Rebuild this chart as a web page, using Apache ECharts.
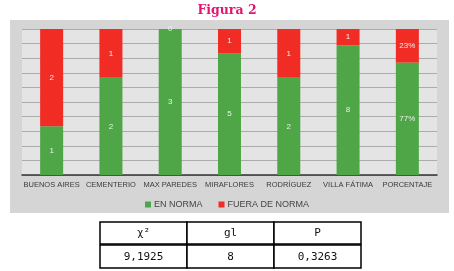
<!DOCTYPE html>
<html><head><meta charset="utf-8">
<script src="https://cdn.jsdelivr.net/npm/echarts@6/dist/echarts.min.js"></script>
<style>html,body{margin:0;padding:0;background:#fff}#c{width:454px;height:271px}</style>
</head><body><div id="c"></div>
<script>
const categories = ['BUENOS AIRES','CEMENTERIO','MAX PAREDES','MIRAFLORES','RODRÍGUEZ','VILLA FÁTIMA','PORCENTAJE'];
const enNorma = [1, 2, 3, 5, 2, 8, 77];
const fueraNorma = [2, 1, 0, 1, 1, 1, 23];
const labelsEn = ['1','2','3','5','2','8','77%'];
const labelsFuera = ['2','1','0','1','1','1','23%'];
const seriesNames = ['EN NORMA','FUERA DE NORMA'];
const tableHeaders = ['χ²','gl','P'];
const tableValues = ['9,1925','8','0,3263'];

const totals = enNorma.map((v,i)=>v+fueraNorma[i]);
const pctEn = enNorma.map((v,i)=>v/totals[i]*100);
const pctFuera = fueraNorma.map((v,i)=>v/totals[i]*100);

const chart = echarts.init(document.getElementById('c'), null, {renderer:'canvas'});
const tblX = 100, tblY = 222, colW = 87, rowH = 24;
const graphics = [
  {type:'rect', z:-10, shape:{x:10,y:20,width:439,height:193}, style:{fill:'#d5d5d5'}},
  {type:'rect', z:-9, shape:{x:22,y:29,width:415,height:146}, style:{fill:'#e4e4e4'}}
];
for (let r=0;r<2;r++){
  for (let c=0;c<3;c++){
    graphics.push({type:'rect', shape:{x:tblX+c*colW, y:tblY+r*rowH-(r?1:0), width:colW, height:rowH-(r?1:2)},
      style:{fill:'#fff', stroke:'#000', lineWidth:1.5}});
    graphics.push({type:'text', z:5, style:{text:(r?tableValues:tableHeaders)[c], x:tblX+c*colW+colW/2, y:tblY+r*rowH+rowH/2-1,
      textAlign:'center', textVerticalAlign:'middle', font:'11px "DejaVu Sans Mono"', fill:'#111'}});
  }
}
chart.setOption({
  animation:false,
  title:{text:'Figura 2', left:'center', top:-1, textStyle:{color:'#e5156e', fontFamily:'DejaVu Serif', fontWeight:'bold', fontSize:12.5}},
  graphic:graphics,
  legend:{data:seriesNames, top:195, left:'center', itemWidth:6, itemHeight:6, itemGap:16, icon:'rect',
    textStyle:{fontFamily:'Liberation Sans', fontSize:9, color:'#444', padding:[0,0,0,-2]}},
  grid:{left:22, right:17, top:29, bottom:96},
  xAxis:{type:'category', data:categories, axisLine:{lineStyle:{color:'#333', width:1.5}}, axisTick:{show:false},
    axisLabel:{interval:0, fontFamily:'Liberation Sans', fontSize:7.5, color:'#3a3a3a', margin:6}},
  yAxis:{type:'value', min:0, max:100, interval:10, axisLabel:{show:false}, axisLine:{show:false}, axisTick:{show:false},
    splitLine:{lineStyle:{color:'#ababab', width:1}}},
  series:[
    {name:seriesNames[0], type:'bar', stack:'s', barWidth:23, data:pctEn, itemStyle:{color:'#4ea646'},
      label:{show:true, position:'inside', color:'#eee', fontSize:8, fontFamily:'Liberation Sans', formatter:p=>labelsEn[p.dataIndex]}},
    {name:seriesNames[1], type:'bar', stack:'s', barWidth:23, data:pctFuera, itemStyle:{color:'#f02c24'},
      label:{show:true, position:'inside', color:'#eee', fontSize:8, fontFamily:'Liberation Sans', formatter:p=>labelsFuera[p.dataIndex]}}
  ]
});
</script></body></html>
